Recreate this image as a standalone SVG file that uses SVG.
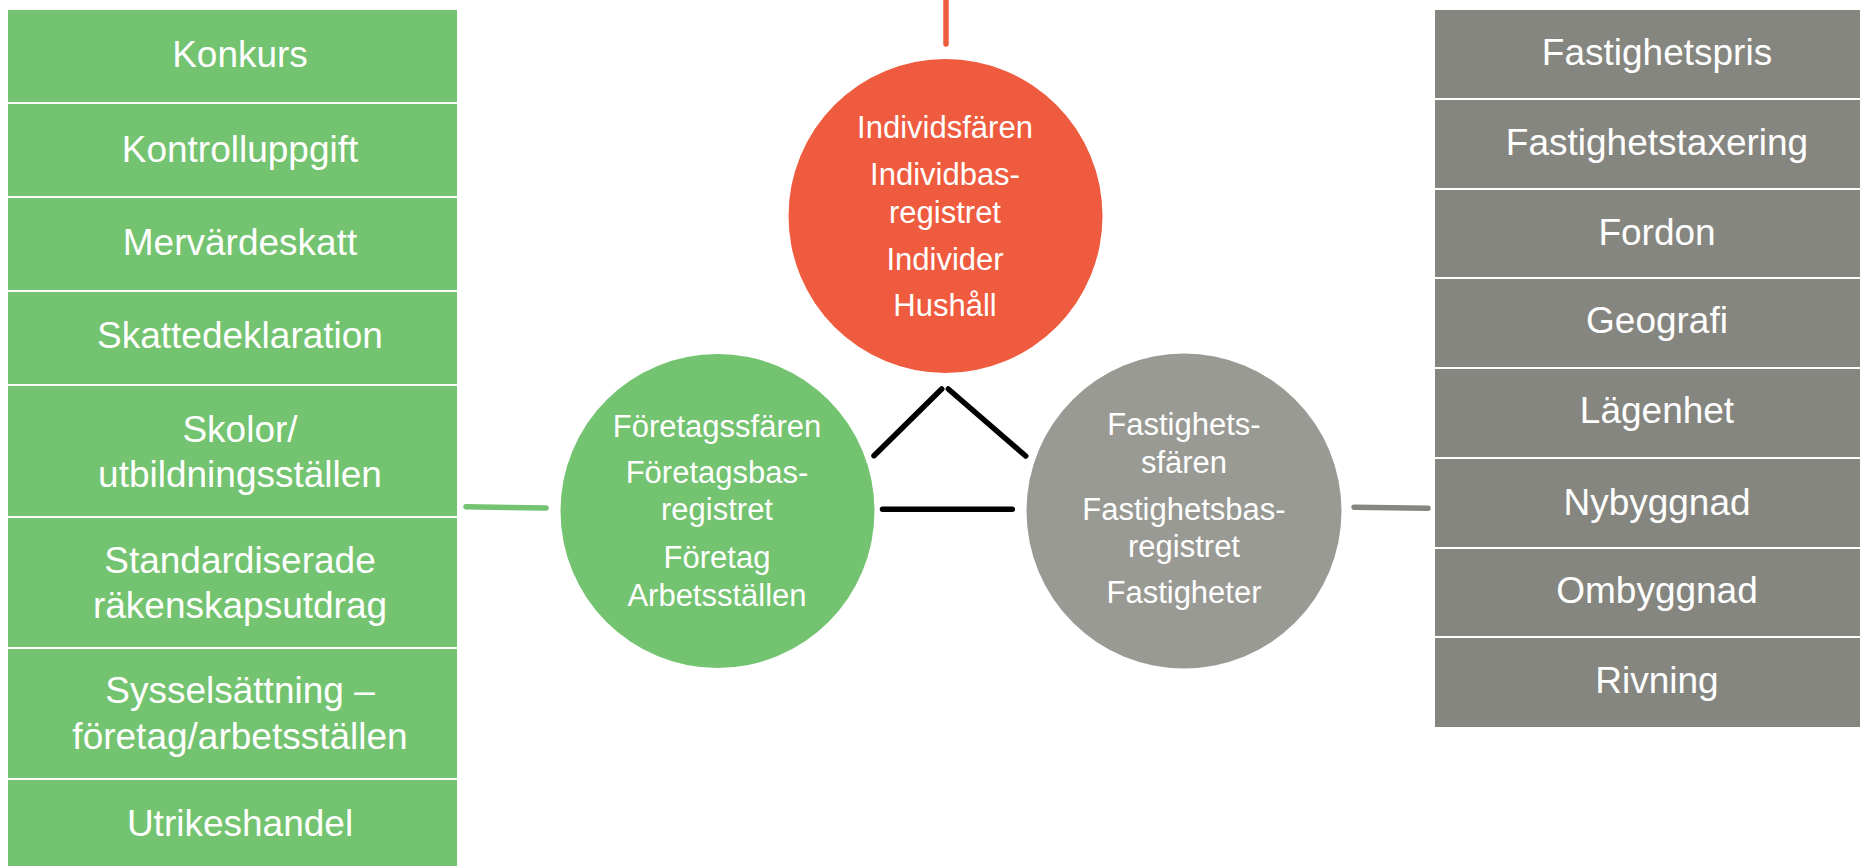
<svg xmlns="http://www.w3.org/2000/svg" width="1860" height="866" viewBox="0 0 1860 866">
<style>
.g{fill:#74C370}
.d{fill:#868680}
.t{font-family:"Liberation Sans",Arial,sans-serif;fill:#fff;text-anchor:middle}
.lt{font-size:37px}
.ct{font-size:31px}
.con{fill:none;stroke-linecap:round;stroke-width:5.5}
</style>
<rect width="1860" height="866" fill="#fff"/>
<g id="connectors">
<line class="con" x1="946" y1="0" x2="946" y2="44" stroke="#EF5B3E"/>
<line class="con" x1="466" y1="506.7" x2="546" y2="508" stroke="#74C370"/>
<line class="con" x1="1354" y1="507.3" x2="1428" y2="508.3" stroke="#868680"/>
<line class="con" x1="874" y1="455.7" x2="941.7" y2="389" stroke="#000"/>
<line class="con" x1="948.3" y1="389" x2="1025.7" y2="456" stroke="#000"/>
<line class="con" x1="882.5" y1="509.3" x2="1012.3" y2="509.3" stroke="#000"/>
</g>
<g id="individsfaren">
<circle cx="945.5" cy="216" r="157" fill="#EF5B3E"/>
<text class="t ct" x="945" y="138">Individsfären</text>
<text class="t ct" x="945" y="185">Individbas-</text>
<text class="t ct" x="945" y="223">registret</text>
<text class="t ct" x="945" y="270">Individer</text>
<text class="t ct" x="945" y="316">Hushåll</text>
</g>
<g id="foretagssfaren">
<circle cx="717.5" cy="511" r="157" class="g"/>
<text class="t ct" x="717" y="437">Företagssfären</text>
<text class="t ct" x="717" y="483">Företagsbas-</text>
<text class="t ct" x="717" y="520">registret</text>
<text class="t ct" x="717" y="568">Företag</text>
<text class="t ct" x="717" y="606">Arbetsställen</text>
</g>
<g id="fastighetssfaren">
<circle cx="1184" cy="511" r="157.5" fill="#9A9A95"/>
<text class="t ct" x="1184" y="435">Fastighets-</text>
<text class="t ct" x="1184" y="473">sfären</text>
<text class="t ct" x="1184" y="520">Fastighetsbas-</text>
<text class="t ct" x="1184" y="557">registret</text>
<text class="t ct" x="1184" y="603">Fastigheter</text>
</g>
<g id="konkurs"><rect class="g" x="8" y="10" width="449" height="92"/><text class="t lt" x="240" y="67">Konkurs</text></g>
<g id="kontrolluppgift"><rect class="g" x="8" y="104" width="449" height="92"/><text class="t lt" x="240" y="162">Kontrolluppgift</text></g>
<g id="mervardeskatt"><rect class="g" x="8" y="198" width="449" height="92"/><text class="t lt" x="240" y="255">Mervärdeskatt</text></g>
<g id="skattedeklaration"><rect class="g" x="8" y="292" width="449" height="92"/><text class="t lt" x="240" y="348">Skattedeklaration</text></g>
<g id="skolor"><rect class="g" x="8" y="386" width="449" height="130"/><text class="t lt" x="240" y="442">Skolor/</text><text class="t lt" x="240" y="487">utbildningsställen</text></g>
<g id="standardiserade"><rect class="g" x="8" y="518" width="449" height="129"/><text class="t lt" x="240" y="573">Standardiserade</text><text class="t lt" x="240" y="618">räkenskapsutdrag</text></g>
<g id="sysselsattning"><rect class="g" x="8" y="649" width="449" height="129"/><text class="t lt" x="240" y="703">Sysselsättning –</text><text class="t lt" x="240" y="749">företag/arbetsställen</text></g>
<g id="utrikeshandel"><rect class="g" x="8" y="780" width="449" height="90"/><text class="t lt" x="240" y="836">Utrikeshandel</text></g>
<g id="fastighetspris"><rect class="d" x="1435" y="10" width="425" height="88"/><text class="t lt" x="1657" y="65">Fastighetspris</text></g>
<g id="fastighetstaxering"><rect class="d" x="1435" y="100" width="425" height="88"/><text class="t lt" x="1657" y="155">Fastighetstaxering</text></g>
<g id="fordon"><rect class="d" x="1435" y="190" width="425" height="87"/><text class="t lt" x="1657" y="245">Fordon</text></g>
<g id="geografi"><rect class="d" x="1435" y="279" width="425" height="88"/><text class="t lt" x="1657" y="333">Geografi</text></g>
<g id="lagenhet"><rect class="d" x="1435" y="369" width="425" height="88"/><text class="t lt" x="1657" y="423">Lägenhet</text></g>
<g id="nybyggnad"><rect class="d" x="1435" y="459" width="425" height="88"/><text class="t lt" x="1657" y="515">Nybyggnad</text></g>
<g id="ombyggnad"><rect class="d" x="1435" y="549" width="425" height="87"/><text class="t lt" x="1657" y="603">Ombyggnad</text></g>
<g id="rivning"><rect class="d" x="1435" y="638" width="425" height="89"/><text class="t lt" x="1657" y="693">Rivning</text></g>
</svg>
